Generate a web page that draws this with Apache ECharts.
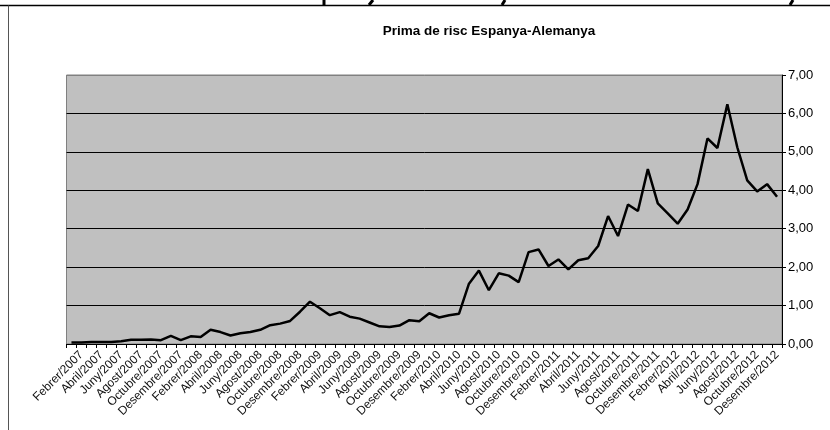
<!DOCTYPE html>
<html>
<head>
<meta charset="utf-8">
<script src="https://cdn.jsdelivr.net/npm/echarts@6/dist/echarts.min.js"></script>
<style>
  html, body { margin: 0; padding: 0; background: #fff; }
  #chart { width: 830px; height: 430px; }
</style>
</head>
<body>
<div id="chart"></div>
<script>
// mesos: Gener/2007 .. Desembre/2012
const monthNames = ['Gener', 'Febrer', 'Març', 'Abril', 'Maig', 'Juny',
  'Juliol', 'Agost', 'Setembre', 'Octubre', 'Novembre', 'Desembre'];
const years = [2007, 2008, 2009, 2010, 2011, 2012];

// prima de risc (punts percentuals), llegit del gràfic
const spread = [
  0.04, 0.04, 0.05, 0.05, 0.05, 0.07, 0.11, 0.11, 0.12, 0.10, 0.21, 0.10,
  0.20, 0.18, 0.37, 0.31, 0.22, 0.28, 0.31, 0.37, 0.49, 0.53, 0.60, 0.84,
  1.10, 0.93, 0.75, 0.83, 0.71, 0.66, 0.56, 0.46, 0.44, 0.48, 0.62, 0.59,
  0.80, 0.69, 0.75, 0.79, 1.57, 1.91, 1.40, 1.84, 1.78, 1.61, 2.39, 2.46,
  2.03, 2.20, 1.94, 2.18, 2.23, 2.55, 3.33, 2.81, 3.63, 3.46, 4.55, 3.66,
  3.40, 3.13, 3.50, 4.16, 5.35, 5.10, 6.24, 5.12, 4.26, 3.97, 4.16, 3.83
];

const yTicks = [0, 1, 2, 3, 4, 5, 6, 7];

const categories = [];
years.forEach(y => monthNames.forEach(m => categories.push(m + '/' + y)));

const chart = echarts.init(document.getElementById('chart'));

const fontFam = '"Liberation Sans", Arial, sans-serif';

// restes del titol gran tallat a dalt
const frag = (x1, y1, x2, y2) => ({
  type: 'line', silent: true,
  shape: { x1, y1, x2, y2 },
  style: { stroke: '#000', lineWidth: 3 }
});

chart.setOption({
  animation: false,
  backgroundColor: '#fff',
  title: {
    text: 'Prima de risc Espanya-Alemanya',
    left: 484,
    top: 19,
    textAlign: 'center',
    textStyle: { fontFamily: fontFam, fontSize: 13.5, fontWeight: 'bold', color: '#000' }
  },
  graphic: [
    { type: 'line', silent: true, shape: { x1: 0, y1: 5.5, x2: 830, y2: 5.5 },
      style: { stroke: '#000', lineWidth: 1.5 } },
    { type: 'line', silent: true, shape: { x1: 8.5, y1: 5.5, x2: 8.5, y2: 430 },
      style: { stroke: '#555', lineWidth: 1 } },
    frag(324, 0, 324, 5),
    frag(373, 0, 369, 5),
    frag(505, 0, 502, 5),
    frag(793, 0, 790, 5)
  ],
  grid: {
    left: 66.5,
    right: 48,
    top: 75,
    bottom: 86,
    show: true,
    backgroundColor: '#C0C0C0',
    borderColor: '#808080',
    borderWidth: 1
  },
  xAxis: {
    type: 'category',
    data: categories,
    boundaryGap: true,
    axisLine: { lineStyle: { color: '#000', width: 1 } },
    axisTick: { show: true, interval: 0, length: 4, lineStyle: { color: '#000' } },
    axisLabel: {
      interval: (i) => i % 2 === 1,
      rotate: 45,
      margin: 9,
      fontFamily: fontFam,
      fontSize: 12,
      color: '#111'
    },
    splitLine: { show: false }
  },
  yAxis: {
    type: 'value',
    position: 'right',
    min: yTicks[0],
    max: yTicks[yTicks.length - 1],
    interval: 1,
    axisLine: { show: true, lineStyle: { color: '#000', width: 1 } },
    axisTick: { show: true, length: 4, lineStyle: { color: '#000' } },
    axisLabel: {
      margin: 6,
      fontFamily: fontFam,
      fontSize: 13,
      color: '#000',
      formatter: v => v.toFixed(2).replace('.', ',')
    },
    splitLine: {
      show: true,
      lineStyle: { color: ['#000', '#000', '#000', '#000', '#000', '#000', '#000', '#808080'], width: 1 }
    }
  },
  series: [{
    type: 'line',
    data: spread,
    symbol: 'none',
    lineStyle: { color: '#000', width: 2.5 },
    itemStyle: { color: '#000' }
  }]
});
</script>
</body>
</html>
